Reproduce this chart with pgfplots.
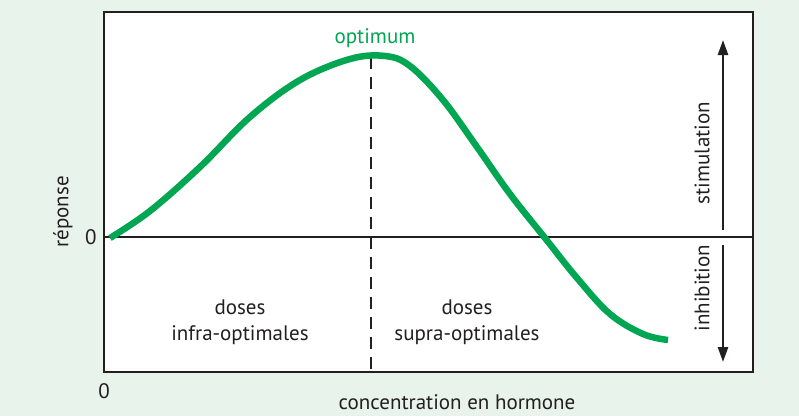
\documentclass[border=0pt]{standalone}
\usepackage{pgfplots}
\pgfplotsset{compat=1.18}
\usepackage{fontspec}
\setmainfont{PT Sans}
\usetikzlibrary{arrows.meta}
\definecolor{bg}{HTML}{E8F3EC}
\definecolor{vert}{HTML}{00A651}
\definecolor{txt}{HTML}{231F20}
\begin{document}
\begin{tikzpicture}
\fill[bg] (0,0) rectangle (799pt,416pt);
\begin{axis}[
  at={(104pt,44pt)}, anchor=south west,
  x=1pt, y=1pt,
  xmin=104, xmax=753, ymin=44, ymax=404,
  axis line style={line width=2.8pt, txt},
  axis background/.style={fill=white},
  clip=false,
  xtick={104}, xticklabels={0},
  ytick={179}, yticklabels={0},
  major tick length=0pt,
  /pgf/number format/assume math mode=true,
  tick label style={font=\fontsize{21}{25}\selectfont, text=txt},
  xticklabel style={yshift=-8pt},
  yticklabel style={xshift=-4pt},
  font=\fontsize{21}{26}\selectfont,
]
\draw[line width=2.6pt, txt] (axis cs:104,179) -- (axis cs:753,179);
\draw[line width=2.8pt, txt, dash pattern=on 12pt off 8pt] (axis cs:371,359) -- (axis cs:371,44);
\addplot[vert, line width=6.5pt, smooth, tension=0.6] coordinates {
(110,178) (150,205) (200,249) (250,299) (300,336) (350,357) (385,360) (410,350)
(443,316) (477,269) (510,222) (545,178) (577,138) (610,102) (643,82) (668,76)
};
\node[text=vert] at (axis cs:375,378) {optimum};
\node[text=txt, rotate=90] at (axis cs:63,204) {réponse};
\node[text=txt] at (axis cs:457,14) {concentration en hormone};
\node[text=txt, align=center] at (axis cs:240,94) {doses\\infra-optimales};
\node[text=txt, align=center] at (axis cs:467,94) {doses\\supra-optimales};
\draw[txt, line width=2.6pt, -{Triangle[length=15pt,width=10pt]}] (axis cs:723,186) -- (axis cs:723,376);
\draw[txt, line width=2.6pt, -{Triangle[length=15pt,width=10pt]}] (axis cs:723,171) -- (axis cs:723,54);
\node[text=txt, rotate=90] at (axis cs:702,263) {stimulation};
\node[text=txt, rotate=90] at (axis cs:702,128) {inhibition};
\end{axis}
\end{tikzpicture}
\end{document}
